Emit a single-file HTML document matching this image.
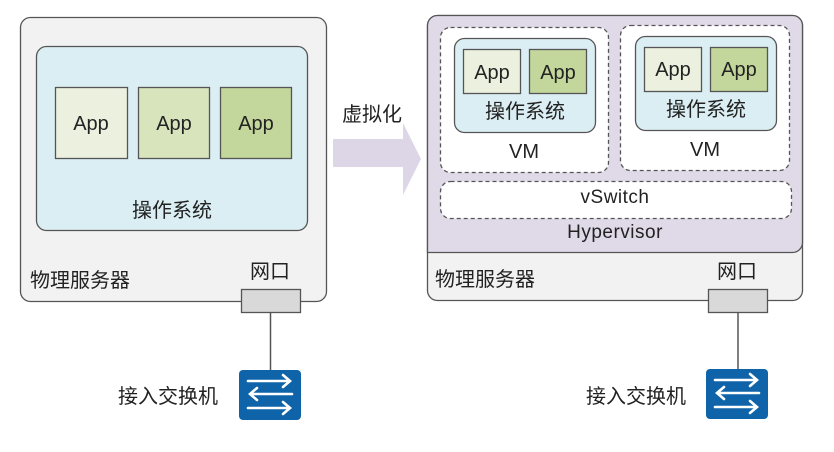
<!DOCTYPE html>
<html><head><meta charset="utf-8"><style>
body{margin:0;width:834px;height:447px;background:#fff;overflow:hidden}
svg text{font-family:"Liberation Sans","Noto Sans CJK SC",sans-serif;fill:#222}
</style></head><body>
<svg width="834" height="447" viewBox="0 0 834 447">
<defs>
<g id="sw">
<rect x="0" y="0" width="62" height="50" rx="4" fill="#0f63a9"/>
<g stroke="#fff" stroke-width="2.6" fill="none" stroke-linecap="round">
<path d="M9 11H51M44 5L51 11L44 17"/>
<path d="M53 24H11M18 18L11 24L18 30"/>
<path d="M9 38H51M44 32L51 38L44 44"/>
</g>
</g>
</defs>
<!-- left -->
<rect x="20.5" y="17.5" width="306" height="284" rx="10" fill="#f2f2f2" stroke="#555" stroke-width="1.3"/>
<rect x="36.5" y="46.5" width="271" height="184" rx="10" fill="#dbeef3" stroke="#555" stroke-width="1.3"/>
<rect x="55.5" y="87.5" width="72" height="71" fill="#ebf1de" stroke="#555" stroke-width="1.3"/>
<rect x="138.5" y="87.5" width="71" height="71" fill="#d7e4bc" stroke="#555" stroke-width="1.3"/>
<rect x="220.5" y="87.5" width="71" height="71" fill="#c3d69b" stroke="#555" stroke-width="1.3"/>
<text x="91" y="130" font-size="20" text-anchor="middle">App</text>
<text x="174" y="130" font-size="20" text-anchor="middle">App</text>
<text x="256" y="130" font-size="20" text-anchor="middle">App</text>
<text x="172" y="217" font-size="20" text-anchor="middle">操作系统</text>
<text x="30" y="287" font-size="20">物理服务器</text>
<text x="270" y="278" font-size="20" text-anchor="middle">网口</text>
<rect x="241.5" y="289.5" width="59" height="23" fill="#d9d9d9" stroke="#555" stroke-width="1.3"/>
<line x1="270.5" y1="312" x2="270.5" y2="370" stroke="#555" stroke-width="1.5"/>
<use href="#sw" x="239" y="370"/>
<text x="118" y="403" font-size="20">接入交换机</text>
<!-- arrow -->
<polygon points="333,139 403,139 403,123 421,159 403,195 403,167 333,167" fill="#ddd6e7"/>
<text x="342" y="121" font-size="20">虚拟化</text>
<!-- right -->
<rect x="427.5" y="15.5" width="375" height="285" rx="10" fill="#f2f2f2" stroke="#555" stroke-width="1.3"/>
<path d="M427.5 252.5V25.5a10 10 0 0 1 10-10h355a10 10 0 0 1 10 10V242.5a10 10 0 0 1-10 10Z" fill="#e0d9e8" stroke="#555" stroke-width="1.3"/>
<rect x="440.5" y="27.5" width="168" height="145" rx="10" fill="#fff" stroke="#555" stroke-width="1.3" stroke-dasharray="4,3"/>
<rect x="620.5" y="25.5" width="169" height="145" rx="10" fill="#fff" stroke="#555" stroke-width="1.3" stroke-dasharray="4,3"/>
<rect x="454.5" y="38.5" width="141" height="94" rx="10" fill="#dbeef3" stroke="#555" stroke-width="1.3"/>
<rect x="635.5" y="36.5" width="141" height="94" rx="10" fill="#dbeef3" stroke="#555" stroke-width="1.3"/>
<rect x="463.5" y="49.5" width="57" height="44" fill="#ebf1de" stroke="#555" stroke-width="1.3"/>
<rect x="529.5" y="49.5" width="57" height="44" fill="#c3d69b" stroke="#555" stroke-width="1.3"/>
<rect x="644.5" y="47.5" width="57" height="44" fill="#ebf1de" stroke="#555" stroke-width="1.3"/>
<rect x="710.5" y="47.5" width="57" height="44" fill="#c3d69b" stroke="#555" stroke-width="1.3"/>
<text x="492" y="79" font-size="20" text-anchor="middle">App</text>
<text x="558" y="79" font-size="20" text-anchor="middle">App</text>
<text x="673" y="76" font-size="20" text-anchor="middle">App</text>
<text x="739" y="76" font-size="20" text-anchor="middle">App</text>
<text x="525" y="118" font-size="20" text-anchor="middle">操作系统</text>
<text x="706" y="116" font-size="20" text-anchor="middle">操作系统</text>
<text x="524" y="158" font-size="20" text-anchor="middle">VM</text>
<text x="705" y="156" font-size="20" text-anchor="middle">VM</text>
<rect x="440.5" y="181.5" width="351" height="37" rx="10" fill="#fff" stroke="#555" stroke-width="1.3" stroke-dasharray="4,3"/>
<text x="615" y="203" font-size="19" text-anchor="middle" letter-spacing="0.5">vSwitch</text>
<text x="615" y="238" font-size="19" text-anchor="middle" letter-spacing="0.5">Hypervisor</text>
<text x="435" y="286" font-size="20">物理服务器</text>
<text x="737" y="278" font-size="20" text-anchor="middle">网口</text>
<rect x="708.5" y="289.5" width="59" height="23" fill="#d9d9d9" stroke="#555" stroke-width="1.3"/>
<line x1="738" y1="312" x2="738" y2="369" stroke="#555" stroke-width="1.5"/>
<use href="#sw" x="706" y="369"/>
<text x="586" y="403" font-size="20">接入交换机</text>
</svg>
</body></html>
